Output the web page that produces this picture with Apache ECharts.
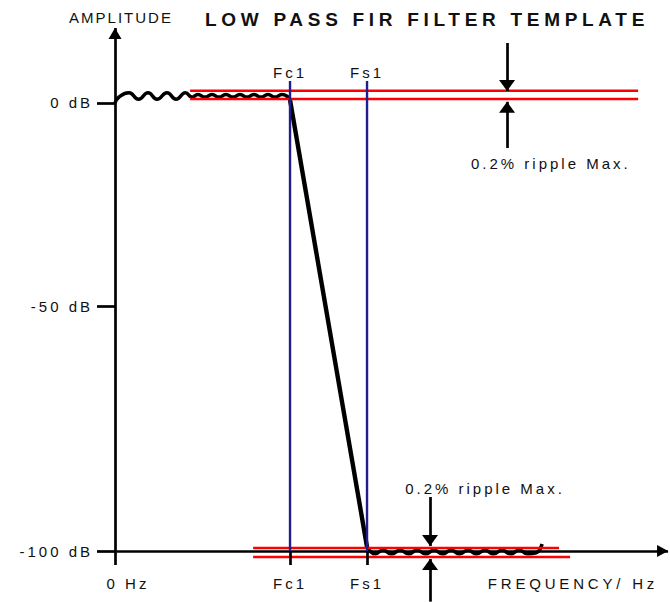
<!DOCTYPE html>
<html><head><meta charset="utf-8">
<script src="https://cdn.jsdelivr.net/npm/echarts@6/dist/echarts.min.js"></script>
<style>html,body{margin:0;padding:0;background:#fff}#c{width:670px;height:602px}</style>
</head><body><div id="c"></div>
<script>
// ---- texts ----
const titleText = 'LOW PASS FIR FILTER TEMPLATE';
const yAxisTitle = 'AMPLITUDE';
const xAxisTitle = 'FREQUENCY/ Hz';
const rippleNote = '0.2% ripple Max.';

// ---- ticks (x in units of Fc1, y in dB as drawn on the sketch) ----
const xTickValues = [0, 1.0, 1.44];
const xTickLabels = ['0 Hz', 'Fc1', 'Fs1'];
const yTickValues = [0, -45.4, -100];
const yTickLabels = ['0 dB', '-50 dB', '-100 dB'];
const edgeFreqs = [1.0, 1.44];
const edgeNames = ['Fc1', 'Fs1'];
const edgeTopY = 4.91;
const edgeLabelY = 6.70;

// ---- response curve ----
const passbandRipple = [[0,0],[0.023,1.34],[0.080,2.28],[0.134,0.85],[0.189,2.28],[0.240,0.85],[0.297,2.28],[0.349,0.85],[0.403,2.28],[0.440,1.30],[0.474,1.90],[0.514,1.30],[0.554,1.90],[0.594,1.30],[0.634,1.90],[0.674,1.30],[0.714,1.90],[0.754,1.30],[0.794,1.90],[0.834,1.30],[0.874,1.90],[0.914,1.30],[0.954,1.90],[0.989,1.34],[1.000,0.67]];
const transitionBand = [[1.000,0.67],[1.44,-99.11]];
const stopbandRipple = [[1.44,-99.11],[1.457,-100.0],[1.486,-100.62],[1.531,-99.82],[1.580,-100.62],[1.629,-99.82],[1.677,-100.62],[1.726,-99.82],[1.774,-100.62],[1.823,-99.82],[1.871,-100.62],[1.920,-99.82],[1.969,-100.62],[2.017,-99.82],[2.066,-100.62],[2.114,-99.82],[2.163,-100.62],[2.211,-99.82],[2.260,-100.62],[2.309,-99.82],[2.357,-100.62],[2.406,-100.40],[2.440,-98.44]];

// ---- template limits ----
const passUpper = [[0.429,2.74],[2.989,2.74]];
const passLower = [[0.429,0.89],[2.989,0.89]];
const stopUpper = [[0.789,-99.33],[2.537,-99.33]];
const stopLower = [[0.789,-101.34],[2.600,-101.34]];

// ---- annotations ----
const passNoteX = 2.24, passArrowDown = [13.39, 2.68], passArrowUp = [-10.04, 0.27];
const passNotePos = [2.49, -13.6];
const stopNoteX = 1.8, stopArrowDown = [-87.95, -98.89], stopArrowUp = [-111.3, -101.78];
const stopNotePos = [2.114, -85.94];
const xTitlePos = [3.103, -107.14];

// ---- axes extents ----
const xRange = [0, 3.171];
const yRange = [-111.38, 22.99];
const xAxisTipX = 3.16, yAxisTipY = 16.74, yAxisBottom = -103.125, baseY = -100;

const FONT = 'Liberation Sans';
const FS = 15;
const INK = '#111';
const RED = '#ff0000';
const BLUE = '#221d8e';

function lineSeries(name, data, color, width, smooth, z) {
  return { name, type: 'line', data, smooth: smooth || false, symbol: 'none', z: z || 2,
    lineStyle: { color, width }, silent: true, animation: false };
}
function arrow(x0, y0, x1, y1, head) {
  return [{ coord: [x0, y0], symbol: 'none' },
          { coord: [x1, y1], symbol: 'triangle', symbolSize: head, symbolOffset: [0, head[1] / 2] }];
}
function seg(x0, y0, x1, y1) {
  return [{ coord: [x0, y0], symbol: 'none' }, { coord: [x1, y1], symbol: 'none' }];
}

const series = [
  lineSeries('passband', passbandRipple, '#000', 3.6, 0.5, 3),
  lineSeries('transition', transitionBand, '#000', 4.4, false, 3),
  lineSeries('stopband', stopbandRipple, '#000', 3.6, 0.5, 3),
  lineSeries('passUpper', passUpper, RED, 2.4, false, 4),
  lineSeries('passLower', passLower, RED, 2.4, false, 4),
  lineSeries('stopUpper', stopUpper, RED, 2.4, false, 4),
  lineSeries('stopLower', stopLower, RED, 2.4, false, 4),
  lineSeries(edgeNames[0], [[edgeFreqs[0], baseY], [edgeFreqs[0], edgeTopY]], BLUE, 2.4, false, 5),
  lineSeries(edgeNames[1], [[edgeFreqs[1], baseY], [edgeFreqs[1], edgeTopY]], BLUE, 2.4, false, 5),
  {
    name: 'annotations', type: 'line', data: [], silent: true, z: 6,
    markLine: {
      silent: true, animation: false, symbol: ['none', 'none'],
      label: { show: false }, emphasis: { disabled: true },
      lineStyle: { color: '#000', width: 2.7, type: 'solid' },
      data: [
        arrow(0, yAxisBottom, 0, yAxisTipY, [13, 11]),
        arrow(0, baseY, xAxisTipX, baseY, [12, 11]),
        seg(edgeFreqs[0], baseY, edgeFreqs[0], yAxisBottom),
        seg(edgeFreqs[1], baseY, edgeFreqs[1], yAxisBottom),
        arrow(passNoteX, passArrowDown[0], passNoteX, passArrowDown[1], [16, 11]),
        arrow(passNoteX, passArrowUp[0], passNoteX, passArrowUp[1], [16, 11]),
        arrow(stopNoteX, stopArrowDown[0], stopNoteX, stopArrowDown[1], [16, 11]),
        arrow(stopNoteX, stopArrowUp[0], stopNoteX, stopArrowUp[1], [16, 11])
      ]
    },
    markPoint: {
      silent: true, animation: false, symbol: 'circle', symbolSize: 1,
      itemStyle: { color: 'rgba(0,0,0,0)' },
      label: { show: true, position: 'inside', color: INK, fontSize: FS, fontFamily: FONT, formatter: p => p.name },
      data: [
        { name: edgeNames[0], coord: [edgeFreqs[0], edgeLabelY] },
        { name: edgeNames[1], coord: [edgeFreqs[1], edgeLabelY] },
        { name: rippleNote, coord: passNotePos },
        { name: rippleNote, coord: stopNotePos },
        { name: xAxisTitle, coord: xTitlePos, label: { align: 'right' } }
      ]
    }
  }
];

const option = {
  animation: false,
  textStyle: { fontFamily: FONT },
  title: { text: titleText, left: 205, top: 10, padding: 0,
    textStyle: { fontFamily: FONT, fontSize: 19, fontWeight: 'bold', color: INK } },
  grid: { left: 115, right: 0, top: 0, bottom: 0, containLabel: false, outerBoundsMode: 'none' },
  xAxis: {
    type: 'value', min: xRange[0], max: xRange[1], offset: -37,
    axisLine: { show: false }, axisTick: { show: false }, splitLine: { show: false },
    axisLabel: { customValues: xTickValues, margin: 11, fontSize: FS, color: INK, fontFamily: FONT,
      formatter: v => v === xTickValues[0] ? '{z|' + xTickLabels[0] + '}' : xTickLabels[xTickValues.indexOf(v)],
      rich: { z: { padding: [0, 0, 0, 26], fontSize: FS, color: INK, fontFamily: FONT } } }
  },
  yAxis: {
    type: 'value', min: yRange[0], max: yRange[1],
    name: yAxisTitle, nameLocation: 'end', nameGap: -17,
    nameTextStyle: { align: 'center', verticalAlign: 'middle', padding: [0, 0, 0, 12], fontSize: FS, color: INK, fontFamily: FONT },
    axisLine: { show: false }, splitLine: { show: false },
    axisTick: { show: true, customValues: yTickValues, length: 18, lineStyle: { color: '#000', width: 2.7 } },
    axisLabel: { customValues: yTickValues, margin: 22, fontSize: FS, color: INK, fontFamily: FONT,
      formatter: v => yTickLabels[yTickValues.indexOf(v)] }
  },
  series
};

const chart = echarts.init(document.getElementById('c'), null, { renderer: 'svg' });
chart.setOption(option);

function applySpacing() {
  document.querySelectorAll('#c svg text').forEach(t => {
    const s = t.textContent;
    let ls = 3.0;
    if (s === titleText) ls = 4.7;
    else if (s === yAxisTitle) ls = 2.0;
    else if (s === xAxisTitle) ls = 3.8;
    t.setAttribute('letter-spacing', ls);
  });
}
chart.on('finished', applySpacing);
applySpacing();
requestAnimationFrame(() => { applySpacing(); requestAnimationFrame(applySpacing); });
setTimeout(applySpacing, 50);
</script>
</body></html>
